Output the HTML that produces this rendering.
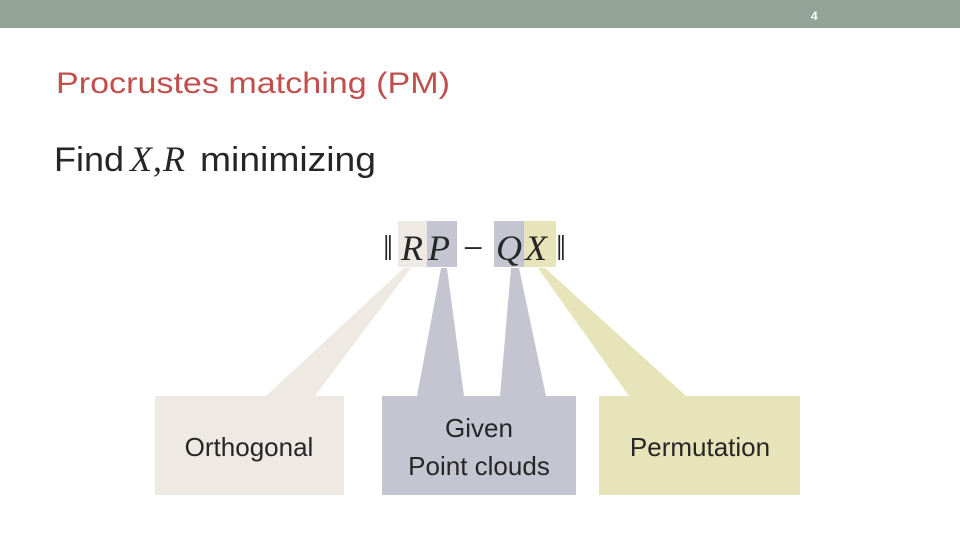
<!DOCTYPE html>
<html><head><meta charset="utf-8"><style>
html,body{margin:0;padding:0;background:#fff;}
</style></head><body>
<svg width="960" height="540" viewBox="0 0 960 540" xmlns="http://www.w3.org/2000/svg">
<rect x="0" y="0" width="960" height="28" fill="#93a397"/>
<text x="811" y="20" font-family="Liberation Sans, sans-serif" font-size="12" font-weight="bold" fill="#fff">4</text>
<text x="56" y="93" font-family="Liberation Sans, sans-serif" font-size="30" fill="#c0504d" textLength="394" lengthAdjust="spacingAndGlyphs">Procrustes matching (PM)</text>
<text x="54" y="171" font-family="Liberation Sans, sans-serif" font-size="34" fill="#262626" textLength="70" lengthAdjust="spacingAndGlyphs">Find</text>
<text x="130" y="171" font-family="Liberation Serif, serif" font-style="italic" font-size="36" fill="#262626">X</text>
<text x="153" y="171" font-family="Liberation Serif, serif" font-size="36" fill="#262626">,</text>
<text x="163" y="171" font-family="Liberation Serif, serif" font-style="italic" font-size="36" fill="#262626">R</text>
<text x="200" y="171" font-family="Liberation Sans, sans-serif" font-size="34" fill="#262626" textLength="176" lengthAdjust="spacingAndGlyphs">minimizing</text>
<!-- highlight boxes -->
<rect x="398" y="221" width="29" height="46" fill="#efe9e3"/>
<rect x="427" y="221" width="30" height="46" fill="#c5c5d1"/>
<rect x="494" y="221" width="30" height="46" fill="#c5c5d1"/>
<rect x="524" y="221" width="32" height="46" fill="#e6e4b8"/>
<!-- wedges -->
<polygon points="404,268 411,268 315,396 266,396" fill="#efe9e3"/>
<polygon points="441,268 447,268 464,396 417,396" fill="#c5c5d1"/>
<polygon points="511,268 519,268 546,396 500,396" fill="#c5c5d1"/>
<polygon points="538,268 545,268 686,396 629,396" fill="#e6e4b8"/>
<!-- formula -->
<g font-family="Liberation Serif, serif" font-size="36" fill="#262626">
<text x="383" y="260">‖</text>
<text x="401" y="260" font-style="italic">R</text>
<text x="428" y="260" font-style="italic">P</text>
<text x="463" y="260">−</text>
<text x="496" y="260" font-style="italic">Q</text>
<text x="525" y="260" font-style="italic">X</text>
<text x="556" y="260">‖</text>
</g>
<!-- boxes -->
<rect x="155" y="396" width="189" height="99" fill="#efe9e3"/>
<rect x="382" y="396" width="194" height="99" fill="#c5c5d1"/>
<rect x="599" y="396" width="201" height="99" fill="#e6e4b8"/>
<g font-family="Liberation Sans, sans-serif" font-size="26" fill="#262626" text-anchor="middle">
<text x="249" y="456">Orthogonal</text>
<text x="479" y="437">Given</text>
<text x="479" y="475">Point clouds</text>
<text x="700" y="456">Permutation</text>
</g>
</svg>
</body></html>
